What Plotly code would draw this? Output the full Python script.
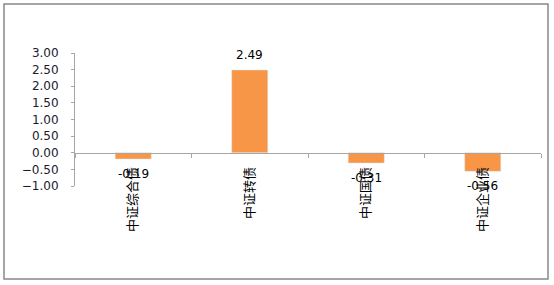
import plotly.graph_objects as go

categories = ["中证综合债", "中证转债", "中证国债", "中证企业债"]
values = [-0.19, 2.49, -0.31, -0.56]
labels = ["-0.19", "2.49", "-0.31", "-0.56"]

W, H = 554, 285
L, R, T, B = 75, 13, 53, 99
pw, ph = W - L - R, H - T - B

fig = go.Figure()
fig.add_trace(go.Bar(
    x=categories, y=values, marker_color="#F79646", width=0.31,
))

for c, v, t in zip(categories, values, labels):
    fig.add_annotation(x=c, y=v, text=t, showarrow=False,
                       yshift=15 if v >= 0 else -15,
                       font=dict(family="DejaVu Sans", size=12, color="#000"))

fig.update_layout(
    width=W, height=H, margin=dict(l=L, r=R, t=T, b=B),
    paper_bgcolor="white", plot_bgcolor="white", showlegend=False,
    xaxis=dict(
        type="category", anchor="free", position=0.25,
        showline=True, linecolor="#A6A6A6", linewidth=1,
        ticks="outside", tickson="boundaries", ticklen=4, tickcolor="#A6A6A6",
        tickangle=-90, showgrid=False,
        tickfont=dict(family="Noto Sans CJK SC", size=13, color="#000"),
        ticklabelstandoff=8,
    ),
    yaxis=dict(
        range=[-1, 3], dtick=0.5, tickformat=".2f",
        showline=True, linecolor="#A6A6A6", linewidth=1,
        ticks="outside", ticklen=3, tickcolor="#A6A6A6",
        showgrid=False, zeroline=False,
        tickfont=dict(family="DejaVu Sans", size=12, color="#1a1a2e"),
        ticklabelstandoff=10,
    ),
)

fig.add_shape(type="rect", xref="paper", yref="paper",
              x0=(4 - L) / pw, x1=(548 - L) / pw,
              y0=(T + ph - 279) / ph, y1=(T + ph - 4) / ph,
              line=dict(color="#888888", width=1.5), layer="below")

fig.write_html("out.html")
